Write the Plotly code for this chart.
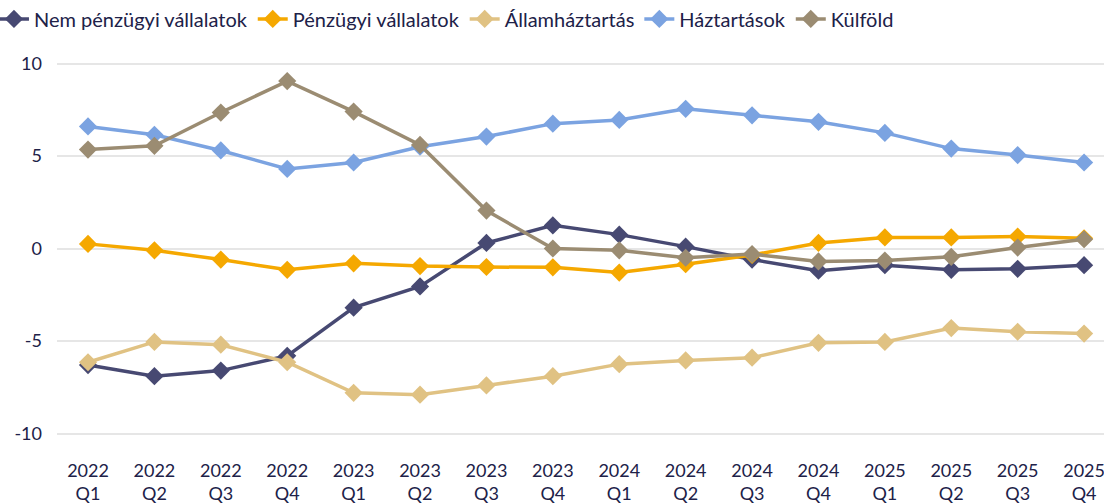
import plotly.graph_objects as go

categories = ["2022<br>Q1", "2022<br>Q2", "2022<br>Q3", "2022<br>Q4",
              "2023<br>Q1", "2023<br>Q2", "2023<br>Q3", "2023<br>Q4",
              "2024<br>Q1", "2024<br>Q2", "2024<br>Q3", "2024<br>Q4",
              "2025<br>Q1", "2025<br>Q2", "2025<br>Q3", "2025<br>Q4"]

y_tick_values = [-10, -5, 0, 5, 10]
y_tick_labels = ["-10", "-5", "0", "5", "10"]

nem_penzugyi = [-6.3, -6.9, -6.6, -5.8, -3.2, -2.05, 0.3, 1.25,
                0.75, 0.1, -0.6, -1.2, -0.9, -1.15, -1.1, -0.9]
penzugyi = [0.25, -0.1, -0.6, -1.15, -0.8, -0.95, -1.0, -1.02,
            -1.3, -0.85, -0.35, 0.3, 0.6, 0.6, 0.65, 0.55]
allamhaztartas = [-6.15, -5.05, -5.2, -6.15, -7.8, -7.9, -7.4, -6.9,
                  -6.25, -6.05, -5.9, -5.1, -5.05, -4.3, -4.5, -4.6]
haztartasok = [6.6, 6.15, 5.3, 4.3, 4.65, 5.5, 6.05, 6.75,
               6.95, 7.55, 7.2, 6.85, 6.25, 5.4, 5.05, 4.65]
kulfold = [5.35, 5.55, 7.35, 9.05, 7.4, 5.6, 2.05, 0.0,
           -0.1, -0.5, -0.3, -0.7, -0.65, -0.45, 0.05, 0.5]

series = [
    ("Nem pénzügyi vállalatok", nem_penzugyi, "#474972"),
    ("Pénzügyi vállalatok", penzugyi, "#F5A800"),
    ("Államháztartás", allamhaztartas, "#E0C283"),
    ("Háztartások", haztartasok, "#7BA3E1"),
    ("Külföld", kulfold, "#9B8C72"),
]

fig = go.Figure()
for name, vals, color in series:
    fig.add_trace(go.Scatter(
        x=categories, y=vals, name=name, mode="lines+markers",
        line=dict(color=color, width=3.5),
        marker=dict(symbol="diamond", size=14, color=color),
    ))

font_color = "#202148"
fig.update_layout(
    width=1104, height=504,
    margin=dict(l=57, r=0, t=45, b=52, autoexpand=False),
    paper_bgcolor="white", plot_bgcolor="white",
    font=dict(family="Lato, 'Open Sans', sans-serif", size=18, color=font_color),
    legend=dict(orientation="h", x=-0.0602, y=1.064, xanchor="left", yanchor="middle",
                font=dict(size=20, color=font_color), itemwidth=30,
                tracegroupgap=0),
    showlegend=True,
)
fig.update_xaxes(
    type="category", range=[-0.467, 15.3], automargin=False,
    showgrid=False, showline=False, zeroline=False, ticks="",
    ticklabelstandoff=6,
    tickfont=dict(size=18, color=font_color),
)
fig.update_yaxes(
    range=[-11, 11], tickvals=y_tick_values, ticktext=y_tick_labels,
    automargin=False,
    showgrid=True, gridcolor="#E6E6E6", gridwidth=2,
    zeroline=False, showline=False, ticks="",
    ticklabelstandoff=14,
    tickfont=dict(size=18, color=font_color),
)

fig.write_html("out.html", config={"displayModeBar": False},
               post_script="document.body.style.margin='0';")
